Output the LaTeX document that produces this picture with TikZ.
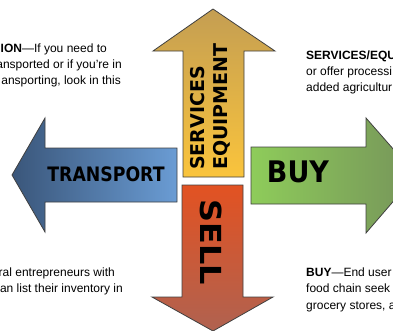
\documentclass[tikz,border=0pt]{standalone}
\usepackage{fontspec}
\setmainfont{Liberation Sans}
\newfontfamily\arrowfont{DejaVu Sans}
\usepackage{xcolor}
\usepackage{tikz}

\definecolor{svctop}{RGB}{196,158,82}
\definecolor{svcbot}{RGB}{250,196,60}
\definecolor{selltop}{RGB}{226,82,34}
\definecolor{sellbot}{RGB}{176,98,80}
\definecolor{transleft}{RGB}{58,86,122}
\definecolor{transright}{RGB}{106,156,212}
\definecolor{buyleft}{RGB}{142,204,90}
\definecolor{buyright}{RGB}{118,148,90}
\definecolor{rim}{RGB}{64,64,64}

\begin{document}
\begin{tikzpicture}[x=1pt, y=-1pt,
  arrowrim/.style={draw=rim, line width=0.8pt, line join=miter},
  bodytext/.style={inner sep=0pt, font=\fontsize{12}{16}\selectfont},
  arrowlabel/.style={inner sep=0pt, font=\arrowfont\bfseries}]
\useasboundingbox (0,0) rectangle (393,330);
\clip (0,0) rectangle (393,330);

% Arrows
\shadedraw[arrowrim, top color=svctop, bottom color=svcbot]
  (183,177) -- (183,51) -- (153,51) -- (213,9) -- (275,51) -- (244,51) -- (244,177) -- cycle;
\shadedraw[arrowrim, top color=selltop, bottom color=sellbot]
  (182,185) -- (243,185) -- (243,297) -- (273,297) -- (213,331) -- (152,297) -- (182,297) -- cycle;
\shadedraw[arrowrim, left color=transleft, right color=transright]
  (177,148) -- (45,148) -- (45,118) -- (12,175) -- (45,232) -- (45,202) -- (177,202) -- cycle;
\shadedraw[arrowrim, left color=buyleft, right color=buyright]
  (251,147) -- (366,147) -- (366,118) -- (416,175) -- (366,233) -- (366,204) -- (251,204) -- cycle;

% Arrow labels
\node[arrowlabel, rotate=90, anchor=west, align=left,
  font=\arrowfont\bfseries\fontsize{19}{23}\selectfont] (svc) at (210.5,170) {SERVICES\\EQUIPMENT};
\node[arrowlabel, rotate=-90, xscale=1.1, font=\arrowfont\bfseries\fontsize{29}{34}\selectfont] (sell) at (211,242) {SELL};
\node[arrowlabel, yscale=1.15, font=\arrowfont\bfseries\fontsize{17.3}{20}\selectfont] (trans) at (106,174) {TRANSPORT};
\node[arrowlabel, yscale=1.1, font=\arrowfont\bfseries\fontsize{27}{30}\selectfont] (buy) at (298,172) {BUY};

% Text top left
\node[bodytext, anchor=base east] (tl1) at (107,52) {\textbf{ION}—If you need to};
\node[bodytext, anchor=base east] (tl2) at (122,68) {ansported or if you’re in};
\node[bodytext, anchor=base east] (tl3) at (121,84.5) {ansporting, look in this};

% Text top right
\node[bodytext, anchor=base west] (tr1) at (306,59) {\textbf{SERVICES/EQU}};
\node[bodytext, anchor=base west] (tr2) at (306,75) {or offer processi};
\node[bodytext, anchor=base west] (tr3) at (306,91) {added agricultur};

% Text bottom left
\node[bodytext, anchor=base east] (bl1) at (115,276) {ral entrepreneurs with};
\node[bodytext, anchor=base east] (bl2) at (123,292) {an list their inventory in};

% Text bottom right
\node[bodytext, anchor=base west] (br1) at (306,276) {\textbf{BUY}—End user};
\node[bodytext, anchor=base west] (br2) at (306,292) {food chain seek};
\node[bodytext, anchor=base west] (br3) at (306,309) {grocery stores, a};
\end{tikzpicture}
\end{document}
